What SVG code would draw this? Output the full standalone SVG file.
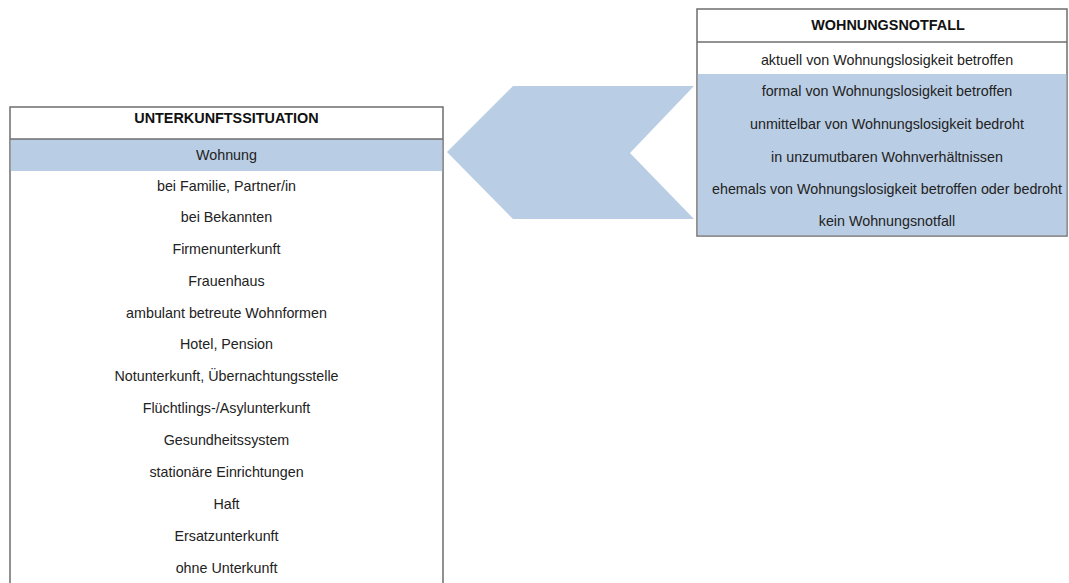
<svg xmlns="http://www.w3.org/2000/svg" width="1069" height="583" viewBox="0 0 1069 583">
<style>
.box{fill:#ffffff;stroke:#6e6e6e;stroke-width:1.5}
.sep{stroke:#6e6e6e;stroke-width:1.3}
.hl{fill:#b9cde4}
.t{font-family:"Liberation Sans",Arial,sans-serif;font-size:14.3px;fill:#222;text-anchor:middle}
.h{font-family:"Liberation Sans",Arial,sans-serif;font-size:14.4px;font-weight:bold;fill:#111;text-anchor:middle}
</style>
<rect width="1069" height="583" fill="#ffffff"/>
<g id="connectors">
<polygon class="hl" points="694,86 513,86 447,152 513,219 694,219 630,153"/>
</g>
<g id="wohnungsnotfall">
<rect class="box" x="697" y="9" width="370" height="227"/>
<rect class="hl" x="697.8" y="74" width="368.5" height="161.2"/>
<line class="sep" x1="697" y1="42" x2="1067" y2="42"/>
<text class="h" x="888" y="30">WOHNUNGSNOTFALL</text>
<text class="t" x="887" y="65">aktuell von Wohnungslosigkeit betroffen</text>
<text class="t" x="887" y="96">formal von Wohnungslosigkeit betroffen</text>
<text class="t" x="887" y="129">unmittelbar von Wohnungslosigkeit bedroht</text>
<text class="t" x="887" y="162">in unzumutbaren Wohnverhältnissen</text>
<text class="t" x="887" y="194">ehemals von Wohnungslosigkeit betroffen oder bedroht</text>
<text class="t" x="887" y="226">kein Wohnungsnotfall</text>
</g>
<g id="unterkunftssituation">
<rect class="box" x="10" y="107" width="433" height="490"/>
<rect class="hl" x="10.8" y="139" width="431.4" height="32"/>
<line class="sep" x1="10" y1="139" x2="443" y2="139"/>
<text class="h" x="226.5" y="123">UNTERKUNFTSSITUATION</text>
<text class="t" x="226.5" y="160">Wohnung</text>
<text class="t" x="226.5" y="191">bei Familie, Partner/in</text>
<text class="t" x="226.5" y="222">bei Bekannten</text>
<text class="t" x="226.5" y="254">Firmenunterkunft</text>
<text class="t" x="226.5" y="286">Frauenhaus</text>
<text class="t" x="226.5" y="318">ambulant betreute Wohnformen</text>
<text class="t" x="226.5" y="349">Hotel, Pension</text>
<text class="t" x="226.5" y="381">Notunterkunft, Übernachtungsstelle</text>
<text class="t" x="226.5" y="413">Flüchtlings-/Asylunterkunft</text>
<text class="t" x="226.5" y="445">Gesundheitssystem</text>
<text class="t" x="226.5" y="477">stationäre Einrichtungen</text>
<text class="t" x="226.5" y="509">Haft</text>
<text class="t" x="226.5" y="541">Ersatzunterkunft</text>
<text class="t" x="226.5" y="573">ohne Unterkunft</text>
</g>
</svg>
